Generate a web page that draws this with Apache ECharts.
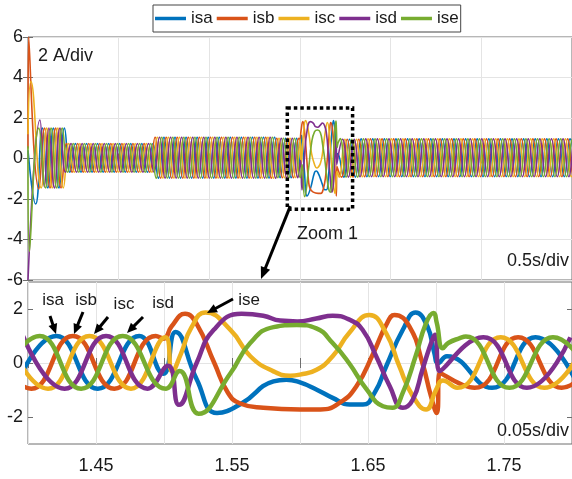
<!DOCTYPE html>
<html>
<head>
<meta charset="utf-8">
<script src="https://cdn.jsdelivr.net/npm/echarts@6/dist/echarts.min.js"></script>
<style>
  html, body { margin: 0; padding: 0; background: #fff; }
  #chart { width: 572px; height: 479px; }
</style>
</head>
<body>
<div id="chart"></div>
<script>
// Five-phase source currents isa..ise: overview (0.5 s/div) and zoomed window (0.05 s/div)
const seriesNames = ['isa', 'isb', 'isc', 'isd', 'ise'];
const seriesColors = ['#0072BD', '#D95319', '#EDB120', '#7E2F8E', '#77AC30'];

// Start-up transient, [time s, current A]
const isaStart = [[0, 0.4], [0.042, -2.25], [0.0788, 1.5]];
const isbStart = [[0, 0.5], [0.004, 6.0], [0.06, -1.5], [0.091, 1.5]];
const iscStart = [[0, 1.2], [0.016, 3.8], [0.0727, -1.45]];
const isdStart = [[0, -6.0], [0.066, 1.9], [0.09, -1.4]];
const iseStart = [[0, 0.6], [0.008, -4.6], [0.06, 1.5], [0.0971, -1.45]];

// Zoomed window 1.40 s .. 1.80 s, [time s, current A]
const isaZoom = [[1.3903, -0.95], [1.4208, 1.0], [1.4513, -0.95], [1.4818, 1.0], [1.4995, -0.4], [1.5085, 1.15],
  [1.524, -0.6], [1.539, -1.85], [1.557, -1.5], [1.5805, -0.68], [1.590, -0.62], [1.600, -0.72], [1.612, -0.98],
  [1.624, -1.29], [1.6366, -1.54], [1.6463, -1.54], [1.6549, -1.1], [1.6634, -0.12], [1.6756, 1.23], [1.685, 1.87],
  [1.6937, 1.35], [1.6988, 0.37], [1.7015, 0.0], [1.708, 0.25], [1.7412, -0.92], [1.7732, 0.95], [1.8052, -0.92]];
const isbZoom = [[1.372, 1.0], [1.4025, -0.95], [1.4330, 1.0], [1.4635, -0.95], [1.4940, 1.0], [1.4998, 0.9],
  [1.5055, 1.35], [1.5155, 1.82], [1.524, 1.45], [1.537, 0.0], [1.547, -1.1], [1.556, -1.5], [1.573, -1.66],
  [1.600, -1.72], [1.615, -1.72], [1.629, -1.48], [1.6415, -0.86], [1.654, 0.37], [1.6634, 1.41], [1.6695, 1.78],
  [1.6805, 1.35], [1.690, 0.0], [1.6963, -1.23], [1.7005, -1.85], [1.7028, -0.37], [1.7284, -0.92], [1.7604, 0.95],
  [1.7924, -0.92], [1.8244, 0.95]];
const iscZoom = [[1.3842, 1.0], [1.4147, -0.95], [1.4452, 1.0], [1.4757, -0.95], [1.501, 0.95], [1.506, -0.31],
  [1.5125, 0.35], [1.520, 1.3], [1.5305, 1.87], [1.549, 1.22], [1.5635, 0.25], [1.5805, -0.31], [1.5927, -0.47],
  [1.600, -0.43], [1.6122, -0.25], [1.624, 0.25], [1.636, 1.1], [1.651, 1.78], [1.6634, 1.1], [1.673, -0.12],
  [1.683, -1.23], [1.6927, -1.72], [1.700, -1.0], [1.705, -0.65], [1.7156, -0.92], [1.7476, 0.95], [1.7796, -0.92],
  [1.8116, 0.95]];
const isdZoom = [[1.3964, 1.0], [1.4269, -0.95], [1.4574, 1.0], [1.4879, -0.95], [1.503, -0.1], [1.511, -1.55],
  [1.524, 0.0], [1.5366, 1.23], [1.557, 1.82], [1.573, 1.75], [1.5854, 1.57], [1.598, 1.54], [1.612, 1.65],
  [1.624, 1.75], [1.6366, 1.6], [1.646, 1.23], [1.656, 0.25], [1.666, -0.86], [1.6756, -1.66], [1.683, -1.35],
  [1.690, -0.25], [1.6975, 0.9], [1.6995, 1.05], [1.7025, -0.3], [1.7348, 0.95], [1.7668, -0.92], [1.7988, 0.95]];
const iseZoom = [[1.3781, -0.95], [1.4086, 1.0], [1.4391, -0.95], [1.4696, 1.0], [1.5015, -0.95], [1.5115, -0.3],
  [1.5255, -1.88], [1.549, -0.37], [1.5634, 0.74], [1.5805, 1.33], [1.5976, 1.41], [1.612, 1.28], [1.624, 0.74],
  [1.636, 0.0], [1.649, -0.98], [1.661, -1.6], [1.668, -1.66], [1.6756, -1.1], [1.685, 0.25], [1.6927, 1.48],
  [1.6982, 1.85], [1.7005, 1.5], [1.705, 0.55], [1.709, 0.74], [1.7175, 0.92], [1.722, 0.98], [1.754, -0.92],
  [1.786, 0.95], [1.818, -0.92]];

// Steady-state stages of the overview: stage edges (s) with the peak / trough current read in each stage
const stageEdges = [0.1, 0.205, 0.70, 1.5, 1.7, 3.05];
const stagePeak = [1.5, 0.74, 1.05, 1.0, 0.97];
const stageTrough = [-1.45, -0.68, -0.97, -0.95, -0.9];
// Cycle length and first peak time of each phase, before and after the disturbance
const periodBefore = 0.061;
const periodAfter = 0.064;
const peakBefore = [1.4208, 1.4330, 1.4452, 1.4574, 1.4696];
const peakAfter = [1.7732, 1.7604, 1.7476, 1.7348, 1.7220];

// Axis ticks
const topYTicks = [-6, -4, -2, 0, 2, 4, 6];
const bottomYTicks = [-2, 0, 2];
const bottomXTicks = [1.45, 1.55, 1.65, 1.75];

const startData = [isaStart, isbStart, iscStart, isdStart, iseStart];
const zoomData = [isaZoom, isbZoom, iscZoom, isdZoom, iseZoom];

function stageAt(t) {
  for (let i = 0; i < stageEdges.length - 1; i++) {
    if (t >= stageEdges[i] && t < stageEdges[i + 1]) return i;
  }
  return stageEdges.length - 2;
}

// Successive peaks and troughs of one phase inside (from, to)
function steadyExtrema(anchor, period, from, to) {
  const half = period / 2;
  const pts = [];
  let k = Math.ceil((from - anchor) / half + 1e-9);
  let t = anchor + k * half;
  while (t < to - 1e-9) {
    const s = stageAt(t);
    const isPeak = ((k % 2) + 2) % 2 === 0;
    pts.push([+t.toFixed(4), isPeak ? stagePeak[s] : stageTrough[s]]);
    k++;
    t = anchor + k * half;
  }
  return pts;
}

function overviewData(i) {
  const zoom = zoomData[i];
  const first = zoom[0][0];
  const last = zoom[zoom.length - 1][0];
  return [].concat(
    startData[i],
    steadyExtrema(peakBefore[i], periodBefore, stageEdges[0], first),
    zoom,
    steadyExtrema(peakAfter[i], periodAfter, last + 1e-6, stageEdges[stageEdges.length - 1])
  );
}

const FONT = '"Liberation Sans", Arial, Helvetica, sans-serif';
const AXIS_COLOR = '#6e6e6e';
const GRID_COLOR = '#e4e4e4';
const TEXT_COLOR = '#1a1a1a';

const tickStyle = { show: true, inside: true, length: 5, lineStyle: { color: AXIS_COLOR, width: 1 } };

const series = [];
seriesNames.forEach((name, i) => {
  series.push({
    name, type: 'line', xAxisIndex: 0, yAxisIndex: 0,
    data: overviewData(i), smooth: 0.5, showSymbol: false, symbol: 'none',
    lineStyle: { width: 1.6, color: seriesColors[i] }, itemStyle: { color: seriesColors[i] },
    animation: false, z: 2 + i
  });
});
seriesNames.forEach((name, i) => {
  series.push({
    name, type: 'line', xAxisIndex: 2, yAxisIndex: 2,
    data: zoomData[i], smooth: 0.5, showSymbol: false, symbol: 'none',
    lineStyle: { width: 4.5, color: seriesColors[i] }, itemStyle: { color: seriesColors[i] },
    animation: false, z: 2 + i
  });
});

const option = {
  backgroundColor: '#fff',
  animation: false,
  textStyle: { fontFamily: FONT },
  legend: {
    top: 5, left: 153, data: seriesNames, icon: 'rect',
    itemWidth: 31, itemHeight: 3.5, itemGap: 4, padding: [5, 2],
    borderColor: '#444', borderWidth: 1, backgroundColor: '#fff',
    textStyle: { fontSize: 17, fontFamily: FONT, color: TEXT_COLOR, lineHeight: 17 }
  },
  grid: [
    { left: 28, top: 37, width: 545, height: 243, show: true, borderColor: AXIS_COLOR, borderWidth: 1, backgroundColor: '#fff' },
    { left: 28, top: 282, width: 545, height: 162, show: true, borderColor: AXIS_COLOR, borderWidth: 1, backgroundColor: '#fff' }
  ],
  xAxis: [
    { type: 'value', gridIndex: 0, min: 0, max: 3, interval: 0.5, position: 'bottom',
      axisLine: { show: false }, axisTick: tickStyle, axisLabel: { show: false },
      splitLine: { show: true, lineStyle: { color: GRID_COLOR, width: 1 } } },
    { type: 'value', gridIndex: 0, min: 0, max: 3, interval: 0.5, position: 'top',
      axisLine: { show: false }, axisTick: tickStyle, axisLabel: { show: false }, splitLine: { show: false } },
    { type: 'value', gridIndex: 1, min: 1.40, max: 1.80, interval: 0.05, position: 'bottom',
      axisLine: { show: false }, axisTick: tickStyle,
      axisLabel: { show: true, customValues: bottomXTicks, fontSize: 18, color: TEXT_COLOR, fontFamily: FONT, margin: 13,
        formatter: v => v.toFixed(2) },
      splitLine: { show: true, lineStyle: { color: GRID_COLOR, width: 1 } } },
    { type: 'value', gridIndex: 1, min: 1.40, max: 1.80, interval: 0.05, position: 'top',
      axisLine: { show: false }, axisTick: tickStyle, axisLabel: { show: false }, splitLine: { show: false } }
  ],
  yAxis: [
    { type: 'value', gridIndex: 0, min: -6, max: 6, interval: 2, position: 'left',
      axisLine: { show: false }, axisTick: tickStyle,
      axisLabel: { show: true, fontSize: 18, color: TEXT_COLOR, fontFamily: FONT, margin: 5, customValues: topYTicks },
      splitLine: { show: true, lineStyle: { color: GRID_COLOR, width: 1 } } },
    { type: 'value', gridIndex: 0, min: -6, max: 6, interval: 2, position: 'right',
      axisLine: { show: false }, axisTick: tickStyle, axisLabel: { show: false }, splitLine: { show: false } },
    { type: 'value', gridIndex: 1, min: -3, max: 3, interval: 1, position: 'left',
      axisLine: { show: false }, axisTick: Object.assign({}, tickStyle, { customValues: bottomYTicks }),
      axisLabel: { show: true, fontSize: 18, color: TEXT_COLOR, fontFamily: FONT, margin: 5, customValues: bottomYTicks,
        formatter: v => (Math.abs(v % 2) < 1e-9 ? String(v) : '') },
      splitLine: { show: true, lineStyle: { color: ['rgba(0,0,0,0)', GRID_COLOR], width: 1 } } },
    { type: 'value', gridIndex: 1, min: -3, max: 3, interval: 1, position: 'right',
      axisLine: { show: false }, axisTick: Object.assign({}, tickStyle, { customValues: bottomYTicks }),
      axisLabel: { show: false }, splitLine: { show: false } }
  ],
  series
};

const chart = echarts.init(document.getElementById('chart'), null, { renderer: 'canvas' });
chart.setOption(option);

// Annotation layer: zoom frame, arrows and captions
const zoomFrame = { t0: 1.43, t1: 1.79, v0: -2.5, v1: 2.5 };
const frameTL = chart.convertToPixel({ gridIndex: 0 }, [zoomFrame.t0, zoomFrame.v1]);
const frameBR = chart.convertToPixel({ gridIndex: 0 }, [zoomFrame.t1, zoomFrame.v0]);

function arrow(tail, tip, width, headLen, headWidth) {
  const dx = tip[0] - tail[0], dy = tip[1] - tail[1];
  const len = Math.sqrt(dx * dx + dy * dy);
  const ux = dx / len, uy = dy / len;
  const bx = tip[0] - ux * headLen, by = tip[1] - uy * headLen;
  const px = -uy * headWidth / 2, py = ux * headWidth / 2;
  return [
    { type: 'line', z: 100, shape: { x1: tail[0], y1: tail[1], x2: bx + ux * 1, y2: by + uy * 1 },
      style: { stroke: '#000', lineWidth: width } },
    { type: 'polygon', z: 100, shape: { points: [[tip[0], tip[1]], [bx + px, by + py], [bx - px, by - py]] },
      style: { fill: '#000' } }
  ];
}

function caption(text, x, y, size, align) {
  return { type: 'text', z: 100, x, y,
    style: { text, fill: TEXT_COLOR, font: size + 'px ' + FONT,
      align: align || 'left', verticalAlign: 'middle', textAlign: align || 'left', textVerticalAlign: 'middle' } };
}

const labelArrows = [
  { text: 'isa', label: [53, 300], tail: [50, 316], tip: [56, 334] },
  { text: 'isb', label: [86, 300], tail: [83, 312], tip: [74, 334] },
  { text: 'isc', label: [124, 304], tail: [108, 317], tip: [94, 334] },
  { text: 'isd', label: [163, 303], tail: [143, 317], tip: [127, 333] },
  { text: 'ise', label: [249, 300], tail: [233, 299], tip: [207, 313] }
];

let elements = [
  { type: 'rect', z: 100,
    shape: { x: frameTL[0], y: frameTL[1], width: frameBR[0] - frameTL[0], height: frameBR[1] - frameTL[1] },
    style: { fill: 'none', stroke: '#000', lineWidth: 3.5, lineDash: [3.5, 3] } },
  caption('2 A/div', 38, 56, 18),
  caption('Zoom 1', 297, 234, 18),
  caption('0.5s/div', 507, 261, 18),
  caption('0.05s/div', 497, 431, 18)
];
elements = elements.concat(arrow([frameTL[0] + 3, frameBR[1] - 3], [261, 279], 3, 12, 10));
labelArrows.forEach(a => {
  elements.push(caption(a.text, a.label[0], a.label[1], 17, 'center'));
  elements = elements.concat(arrow(a.tail, a.tip, 3, 10, 9));
});

chart.setOption({ graphic: { elements } });
</script>
</body>
</html>
